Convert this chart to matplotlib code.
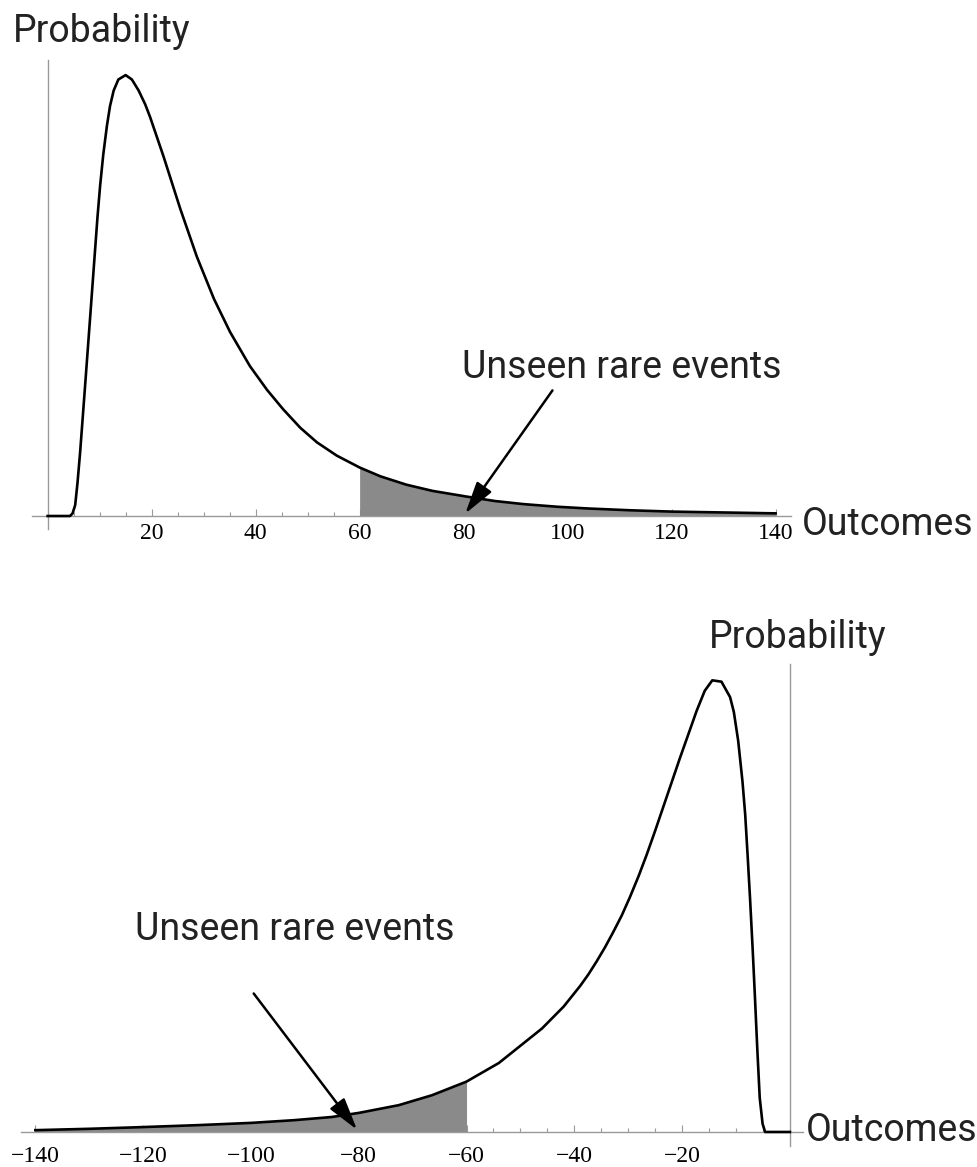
import matplotlib
matplotlib.use("Agg")
import matplotlib.pyplot as plt
from matplotlib.ticker import FixedLocator

# values (relative probability, peak = 1)
top_x = [0, 4.3, 4.8, 5.3, 5.74, 6.25, 7.2, 8.2, 9.1, 9.6, 10.1, 10.7, 11.4, 12.0,
         12.7, 13.6, 15, 16.2, 17.5, 18.75, 19.7, 22.3, 25.5, 28.7, 32, 35.1, 38.9, 42.2,
         45.3, 48.6, 51.8, 55.6, 60, 64, 69, 74, 80.6, 86, 91.5, 98, 104, 112, 120, 130, 140]
top_y = [0, 0, 0.006, 0.025, 0.075, 0.145, 0.295, 0.455, 0.60, 0.68, 0.75, 0.82, 0.885, 0.93,
         0.965, 0.99, 1.0, 0.99, 0.965, 0.934, 0.905, 0.815, 0.697, 0.588, 0.492, 0.417, 0.340, 0.286,
         0.242, 0.200, 0.167, 0.137, 0.110, 0.090, 0.071, 0.057, 0.044, 0.034, 0.027, 0.021, 0.017, 0.013, 0.010, 0.008, 0.006]

bot_x = [-140, -130, -122, -110, -100, -92, -85, -80, -72.6, -66.4, -60, -54, -46, -42, -38.9,
         -37.4, -35.9, -34.3, -32.8, -31.2, -29.7, -28.1, -26.6, -25.05, -23.5, -21.95, -20.4,
         -18.55, -17.3, -15.8, -14.4, -12.7, -11.1, -10.4, -9.6, -8.8, -8.3, -7.85, -7.4, -6.9,
         -6.5, -6.06, -5.6, -5.07, -4.6, 0]
bot_y = [0.004, 0.007, 0.010, 0.015, 0.020, 0.026, 0.033, 0.042, 0.059, 0.081, 0.111, 0.152, 0.228, 0.276, 0.322,
         0.347, 0.375, 0.407, 0.440, 0.477, 0.517, 0.563, 0.610, 0.662, 0.716, 0.770, 0.824,
         0.886, 0.928, 0.972, 0.995, 0.992, 0.958, 0.925, 0.862, 0.772, 0.700, 0.610, 0.515, 0.400,
         0.300, 0.185, 0.075, 0.018, 0, 0]

top_ticks = [20, 40, 60, 80, 100, 120, 140]
bot_ticks = [-140, -120, -100, -80, -60, -40, -20]
tail_start = 60

LINE = "black"
AXIS = "#999999"
SHADE = "#8a8a8a"
TEXT = "#222222"
FONT = "Roboto"
FS = 27


def style_axes(ax, ticks, minor, pad):
    for s in ["top", "right"]:
        ax.spines[s].set_visible(False)
    for s in ["left", "bottom"]:
        ax.spines[s].set_position(("data", 0))
        ax.spines[s].set_color(AXIS)
        ax.spines[s].set_linewidth(1.0)
    ax.set_yticks([])
    ax.xaxis.set_major_locator(FixedLocator(ticks))
    ax.xaxis.set_minor_locator(FixedLocator(minor))
    ax.set_xticklabels([str(t).replace("-", "\u2212") for t in ticks],
                       fontfamily="Liberation Serif", fontsize=17)
    ax.tick_params(axis="x", which="major", direction="in", length=5, width=0.8,
                   color=AXIS, pad=pad)
    ax.tick_params(axis="x", which="minor", direction="in", length=3, width=0.8,
                   color=AXIS)


fig = plt.figure(figsize=(9.77, 11.67), dpi=100)

# top panel: right-skewed
ax1 = fig.add_axes([0.0328, 0.5465, 0.777, 0.402])
ax1.plot(top_x, top_y, color=LINE, lw=1.9, zorder=3, solid_joinstyle="round")
tx = [x for x in top_x if x >= tail_start]
ty = [y for x, y in zip(top_x, top_y) if x >= tail_start]
ax1.fill_between(tx, 0, ty, color=SHADE, lw=0, zorder=2)
ax1.set_xlim(-3, 143)
ax1.set_ylim(-0.03, 1.034)
style_axes(ax1, top_ticks, list(range(5, 141, 5)), 5)
ax1.annotate("", xy=(80, 0), xytext=(97.4, 0.29),
             arrowprops=dict(arrowstyle="-|>,head_length=0.9,head_width=0.25",
                             color="black", lw=1.8, mutation_scale=22), zorder=4)
ax1.text(110.5, 0.336, "Unseen rare events", fontfamily=FONT, fontsize=FS,
         color=TEXT, ha="center", va="center")
ax1.text(0.104, 0.973, "Probability", transform=fig.transFigure, fontfamily=FONT,
         fontsize=FS, color=TEXT, ha="center", va="center")
ax1.text(145, -0.02, "Outcomes", fontfamily=FONT, fontsize=FS, color=TEXT,
         ha="left", va="center")

# bottom panel: left-skewed
ax2 = fig.add_axes([0.0213, 0.01834, 0.801, 0.4123])
ax2.plot(bot_x, bot_y, color=LINE, lw=1.9, zorder=3, solid_joinstyle="round")
bx = [x for x in bot_x if x <= -tail_start]
by = [y for x, y in zip(bot_x, bot_y) if x <= -tail_start]
ax2.fill_between(bx, 0, by, color=SHADE, lw=0, zorder=2)
ax2.set_xlim(-142.7, 2.5)
ax2.set_ylim(-0.03, 1.03)
style_axes(ax2, bot_ticks, list(range(-140, 0, 5)), 10)
ax2.annotate("", xy=(-80, 0), xytext=(-99.8, 0.31),
             arrowprops=dict(arrowstyle="-|>,head_length=0.9,head_width=0.25",
                             color="black", lw=1.8, mutation_scale=22), zorder=4)
ax2.text(-91.8, 0.445, "Unseen rare events", fontfamily=FONT, fontsize=FS,
         color=TEXT, ha="center", va="center")
ax2.text(0.816, 0.4537, "Probability", transform=fig.transFigure, fontfamily=FONT,
         fontsize=FS, color=TEXT, ha="center", va="center")
ax2.text(3.0, 0.004, "Outcomes", fontfamily=FONT, fontsize=FS, color=TEXT,
         ha="left", va="center")

fig.savefig("out.png", dpi=100)
